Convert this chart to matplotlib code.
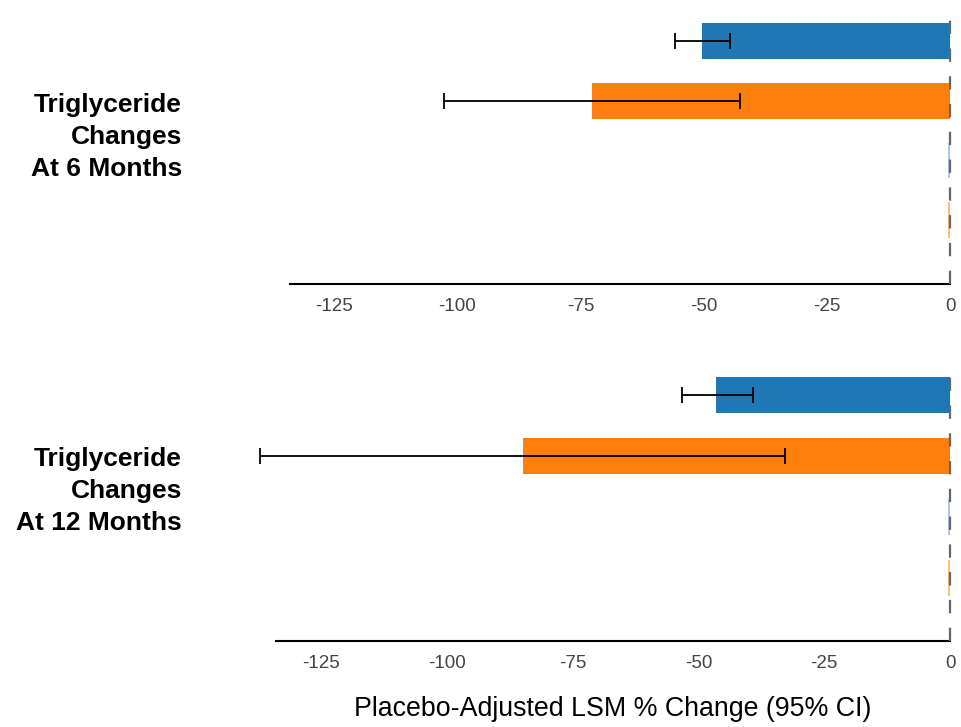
import matplotlib.pyplot as plt

# data
rows = [0, 1, 2, 3]
colors = ["#1f77b4", "#ff7f0e", "#aec7e8", "#ffbb78"]
ticks = [-125, -100, -75, -50, -25, 0]
tick_labels = ["-125", "-100", "-75", "-50", "-25", "0"]

month6_values = [-50.4, -72.6, -0.4, -0.4]
month6_lo = [-55.9, -102.8]
month6_hi = [-44.7, -42.7]

month12_values = [-46.5, -84.9, -0.4, -0.4]
month12_lo = [-53.3, -137.2]
month12_hi = [-39.2, -32.8]

titles = ["Triglyceride\nChanges\nAt 6 Months", "Triglyceride\nChanges\nAt 12 Months"]

plt.rcParams['font.family'] = ['Liberation Sans', 'DejaVu Sans']

W, H = 961, 727
fig = plt.figure(figsize=(W / 100, H / 100), dpi=100)


def px_axes(l, t, r, b):
    return fig.add_axes([l / W, 1 - b / H, (r - l) / W, (b - t) / H])


ax1 = px_axes(290, 16, 950, 284)
ax2 = px_axes(276, 368, 950, 641)

panels = [
    (ax1, month6_values, month6_lo, month6_hi, (4.07, -0.42), 137),
    (ax2, month12_values, month12_lo, month12_hi, (4.03, -0.44), 491),
]

for ax, vals, lo, hi, ylim, label_y in panels:
    ax.barh(rows, vals, height=0.6, color=colors)
    for i in range(2):
        mid = vals[i]
        ax.errorbar(mid, rows[i], xerr=[[mid - lo[i]], [hi[i] - mid]],
                    fmt="none", ecolor="black", elinewidth=1.3, capsize=5.5,
                    capthick=1.3, clip_on=False, zorder=4)
    ax.axvline(0, color="#666666", lw=1.6, dashes=(6, 6.5), zorder=5, clip_on=False)
    ax.set_xlim(-134, 0)
    ax.set_ylim(*ylim)
    ax.set_yticks([])
    ax.set_xticks(ticks)
    ax.set_xticklabels(tick_labels)
    ax.tick_params(axis="x", length=0, pad=10, labelsize=13.5, labelcolor="#444444")
    for lab in ax.get_xticklabels():
        lab.set_x(lab.get_position()[0])
    for s in ["top", "right", "left"]:
        ax.spines[s].set_visible(False)
    ax.spines["bottom"].set_linewidth(1.5)
    ax.spines["bottom"].set_color("black")
    ax.patch.set_alpha(0)
    fig.text(182 / W, 1 - label_y / H, titles[ax is ax2], ha="right", va="center",
             fontsize=19, fontweight="bold", linespacing=1.42, multialignment="right")

ax2.set_xlabel("Placebo-Adjusted LSM % Change (95% CI)", fontsize=19.3, labelpad=17)

fig.savefig("out.png", dpi=100)
